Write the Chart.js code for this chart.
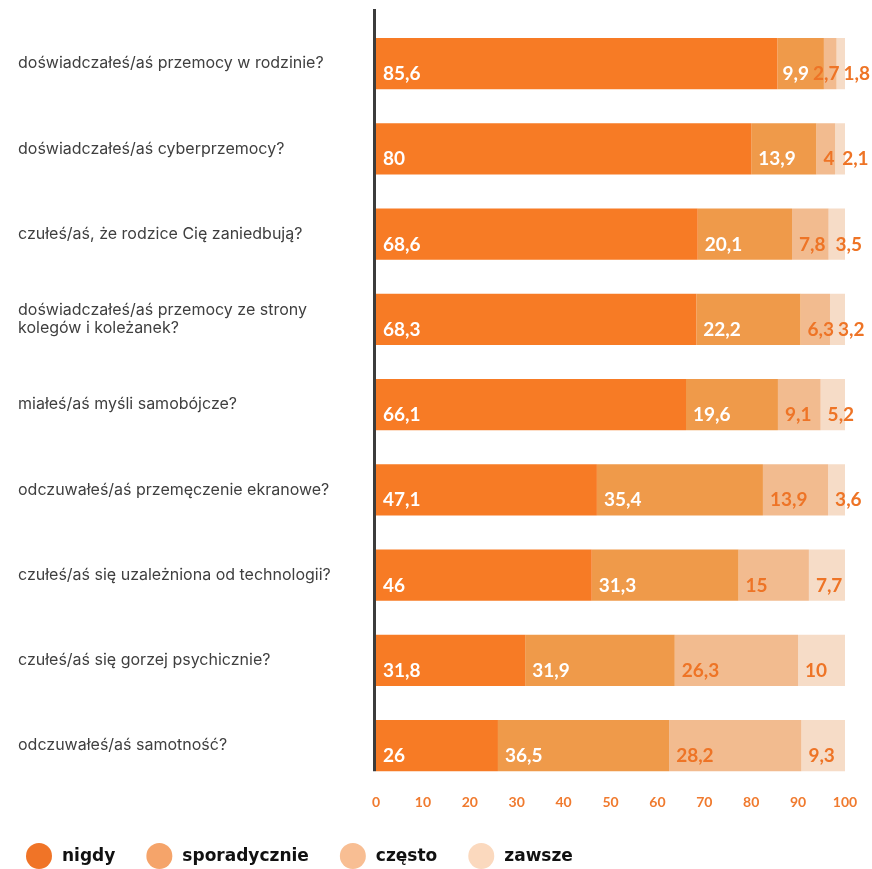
<!DOCTYPE html>
<html><head><meta charset="utf-8">
<script src="https://cdn.jsdelivr.net/npm/chart.js@4/dist/chart.umd.min.js"></script>
<style>html,body{margin:0;padding:0;background:#fff}</style>
</head><body>
<canvas id="c" width="872" height="869"></canvas>
<script>
const categories = [
  'doświadczałeś/aś przemocy w rodzinie?',
  'doświadczałeś/aś cyberprzemocy?',
  'czułeś/aś, że rodzice Cię zaniedbują?',
  ['doświadczałeś/aś przemocy ze strony', 'kolegów i koleżanek?'],
  'miałeś/aś myśli samobójcze?',
  'odczuwałeś/aś przemęczenie ekranowe?',
  'czułeś/aś się uzależniona od technologii?',
  'czułeś/aś się gorzej psychicznie?',
  'odczuwałeś/aś samotność?'
];
const seriesNames = ['nigdy', 'sporadycznie', 'często', 'zawsze'];
const nigdy        = [85.6, 80, 68.6, 68.3, 66.1, 47.1, 46, 31.8, 26];
const sporadycznie = [9.9, 13.9, 20.1, 22.2, 19.6, 35.4, 31.3, 31.9, 36.5];
const czesto       = [2.7, 4, 7.8, 6.3, 9.1, 13.9, 15, 26.3, 28.2];
const zawsze       = [1.8, 2.1, 3.5, 3.2, 5.2, 3.6, 7.7, 10, 9.3];
const xMin = 0, xMax = 100, xStep = 10;

const barColors = ['#F77B25', '#EF9A4A', '#F2BB8F', '#F6DCC7'];
const legendColors = ['#F07427', '#F5A46A', '#F8BE93', '#FBD9BE'];
const labelColors = ['#FFFFFF', '#FFFFFF', '#EE7426', '#EE7426'];
const seriesData = [nigdy, sporadycznie, czesto, zawsze];

const segLabels = {
  id: 'segLabels',
  afterDatasetsDraw(chart) {
    const ctx = chart.ctx;
    ctx.save();
    ctx.font = 'bold 19px Lato';
    ctx.textBaseline = 'alphabetic';
    ctx.textAlign = 'left';
    const limit = chart.width - 2;
    chart.data.labels.forEach((_, i) => {
      const items = [];
      chart.data.datasets.forEach((ds, d) => {
        const bar = chart.getDatasetMeta(d).data[i];
        const left = Math.min(bar.x, bar.base);
        const txt = String(ds.data[i]).replace('.', ',');
        items.push({ txt, w: ctx.measureText(txt).width, left, y: bar.y + bar.height / 2 - 9, color: labelColors[d] });
      });
      let prevEnd = -Infinity;
      items.forEach(it => { it.x = Math.max(it.left + 7, prevEnd + 4); prevEnd = it.x + it.w; });
      let nextStart = limit;
      for (let k = items.length - 1; k >= 0; k--) {
        const it = items[k];
        if (it.x + it.w > nextStart) it.x = nextStart - it.w;
        nextStart = it.x - 4;
      }
      items.forEach(it => { ctx.fillStyle = it.color; ctx.fillText(it.txt, it.x, it.y); });
    });
    ctx.restore();
  }
};

const axisLine = {
  id: 'axisLine',
  afterDatasetsDraw(chart) {
    const ctx = chart.ctx;
    const first = chart.getDatasetMeta(0).data[0];
    const last = chart.getDatasetMeta(0).data[chart.data.labels.length - 1];
    const x = chart.scales.x.getPixelForValue(xMin) - 1.5;
    ctx.save();
    ctx.strokeStyle = '#3c3c3c';
    ctx.lineWidth = 3;
    ctx.beginPath();
    ctx.moveTo(x, first.y - first.height / 2 - 29);
    ctx.lineTo(x, last.y + last.height / 2);
    ctx.stroke();
    ctx.restore();
  }
};

const customLegend = {
  id: 'customLegend',
  afterDraw(chart) {
    const ctx = chart.ctx;
    ctx.save();
    ctx.font = 'bold 17px "DejaVu Sans"';
    ctx.textBaseline = 'middle';
    ctx.textAlign = 'left';
    let x = 26;
    const cy = 856;
    chart.data.datasets.forEach((ds, d) => {
      ctx.fillStyle = legendColors[d];
      ctx.beginPath();
      ctx.arc(x + 13, cy, 13, 0, Math.PI * 2);
      ctx.fill();
      ctx.fillStyle = '#111111';
      ctx.fillText(ds.label, x + 36, cy + 1);
      x += 36 + ctx.measureText(ds.label).width + 31;
    });
    ctx.restore();
  }
};

new Chart(document.getElementById('c'), {
  type: 'bar',
  data: {
    labels: categories,
    datasets: seriesNames.map((name, d) => ({
      label: name,
      data: seriesData[d],
      backgroundColor: barColors[d],
      borderWidth: 0,
      barPercentage: 0.6,
      categoryPercentage: 1
    }))
  },
  options: {
    indexAxis: 'y',
    responsive: false,
    animation: false,
    layout: { padding: { left: 18, top: 21, right: 27, bottom: 52 } },
    plugins: { legend: { display: false }, tooltip: { enabled: false } },
    scales: {
      x: {
        stacked: true, min: xMin, max: xMax,
        grid: { display: false, drawTicks: false },
        border: { display: false },
        ticks: { stepSize: xStep, padding: 6, color: '#F07A2E', font: { family: 'Lato', weight: 'bold', size: 14 } }
      },
      y: {
        stacked: true,
        grid: { display: false, drawTicks: false },
        border: { display: false },
        afterFit(scale) { scale.width = 358; },
        ticks: { crossAlign: 'far', padding: 0, color: '#3f3f3f', font: { family: 'Inter', size: 16, lineHeight: 1.15 } }
      }
    }
  },
  plugins: [segLabels, axisLine, customLegend]
});
</script>
</body></html>
